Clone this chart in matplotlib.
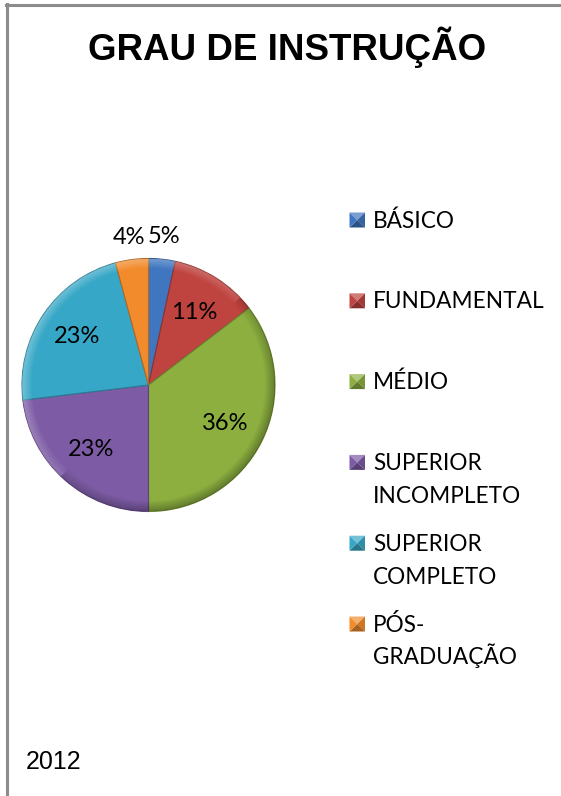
import numpy as np
import matplotlib.pyplot as plt
import matplotlib.colors as mcolors
from matplotlib.patches import Circle, Polygon
from matplotlib.lines import Line2D

# dados do gráfico
categorias = ["BÁSICO", "FUNDAMENTAL", "MÉDIO", "SUPERIOR\nINCOMPLETO",
              "SUPERIOR\nCOMPLETO", "PÓS-\nGRADUAÇÃO"]
valores = [3.4, 11.2, 35.4, 23.1, 22.7, 4.2]
rotulos = ["5%", "11%", "36%", "23%", "23%", "4%"]
cores = ["#3F76BF", "#BF433F", "#8CAF40", "#7D5BA5", "#36A7C6", "#F28B2C"]

W, H = 561, 796
fig = plt.figure(figsize=(W / 100, H / 100), dpi=100)


def fx(px):
    return px / W


def fy(py):
    return 1 - py / H


def tom(cor, f):
    # f < 1 escurece, f > 1 clareia
    r, g, b = mcolors.to_rgb(cor)
    if f < 1:
        return (r * f, g * f, b * f)
    return tuple(c + (1 - c) * (f - 1) for c in (r, g, b))


# moldura
borda = "#8c8c8c"
fig.add_artist(Line2D([fx(6.5), fx(6.5)], [fy(4), 0], color=borda, lw=2.2,
                      transform=fig.transFigure))
fig.add_artist(Line2D([fx(5.5), 1], [fy(5), fy(5)], color=borda, lw=2.2,
                      transform=fig.transFigure))

# pizza
cx, cy, R = 148.5, 385, 126.5
ax = fig.add_axes([fx(cx - R), fy(cy + R), 2 * R / W, 2 * R / H])
wedges, _ = ax.pie(valores, colors=cores, startangle=90, counterclock=False,
                   radius=1, wedgeprops=dict(linewidth=0.8))
for w, c in zip(wedges, cores):
    w.set_edgecolor(tom(c, 0.75))

# efeito de bisel: brilho no alto, sombra na borda de baixo/direita
n = 500
xs = np.linspace(-1, 1, n)
X, Y = np.meshgrid(xs, xs)
r = np.hypot(X, Y)
lado = np.clip((X - Y) / np.maximum(r, 1e-6), -1, 1)  # +1 em baixo/direita
borda_in = np.clip((r - 0.92) / 0.08, 0, 1)
sombra = 0.28 * borda_in * (0.5 + 0.5 * lado)
brilho = 0.30 * borda_in * (0.5 - 0.5 * lado)
rgba = np.zeros((n, n, 4))
claro = brilho > sombra
rgba[..., :3] = np.where(claro[..., None], 1.0, 0.0)
rgba[..., 3] = np.where(claro, brilho, sombra)
im = ax.imshow(rgba, extent=(-1, 1, -1, 1), origin="lower", zorder=3)
im.set_clip_path(Circle((0, 0), 1, transform=ax.transData))
ax.set_xlim(-1, 1)
ax.set_ylim(-1, 1)
ax.axis("off")

fonte = ["Lato", "DejaVu Sans"]
for w, v, txt in zip(wedges, valores, rotulos):
    ang = np.deg2rad((w.theta1 + w.theta2) / 2)
    d = 0.68 if v > 8 else 1.18
    ax.text(d * np.cos(ang), d * np.sin(ang), txt, ha="center", va="center",
            fontsize=17, family=fonte, zorder=5)

# legenda
for i, (cat, c) in enumerate(zip(categorias, cores)):
    yc = 220 + 80.8 * i
    x0, x1 = 349.5, 365.0
    y0, y1 = yc - 7.5, yc + 7.5
    mx, my = (x0 + x1) / 2, yc
    faces = [
        ([(x0, y0), (x1, y0), (mx, my)], 1.3),
        ([(x1, y0), (x1, y1), (mx, my)], 0.85),
        ([(x0, y1), (x1, y1), (mx, my)], 0.7),
        ([(x0, y0), (x0, y1), (mx, my)], 1.0),
    ]
    for pts, f in faces:
        fig.add_artist(Polygon([(fx(a), fy(b)) for a, b in pts], closed=True,
                               transform=fig.transFigure, facecolor=tom(c, f),
                               edgecolor="none"))
    for j, linha in enumerate(cat.split("\n")):
        fig.text(fx(373), fy(yc + 7.5 + 33 * j), linha, va="baseline",
                 ha="left", fontsize=16.3, family=fonte)

fig.text(fx(287), fy(60), "GRAU DE INSTRUÇÃO", ha="center", va="baseline",
         fontsize=26.5, weight="bold", family=["Liberation Sans", "DejaVu Sans"])
fig.text(fx(26), fy(769), "2012", ha="left", va="baseline", fontsize=18,
         family=["Liberation Sans", "DejaVu Sans"])

fig.savefig("out.png", dpi=100)
